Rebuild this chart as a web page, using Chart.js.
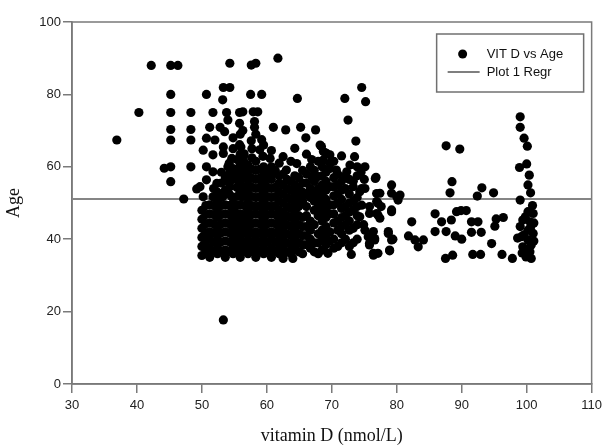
<!DOCTYPE html>
<html>
<head>
<meta charset="utf-8">
<script src="https://cdn.jsdelivr.net/npm/chart.js@4.4.0/dist/chart.umd.min.js"></script>
<style>
html,body{margin:0;padding:0;background:#fff;}
#wrap{width:607px;height:447px;position:relative;}
</style>
</head>
<body>
<div id="wrap"><canvas id="c" width="607" height="447"></canvas></div>
<script>
// ---- axis ticks ----
const xTicks = [30, 40, 50, 60, 70, 80, 90, 100, 110];
const yTicks = [0, 20, 40, 60, 80, 100];
// ---- regression (flat) line value ----
const regrAge = 51.1;
const regrRange = [30, 110];
// ---- series labels ----
const seriesLabels = ['VIT D vs Age', 'Plot 1 Regr'];

// ---- observations [vitamin D, age], grouped by vitamin D range ----
const ptsBelow50 = [
[36.9,67.4],[40.3,75.0],[42.2,88.0],[45.2,88.0],[46.3,88.0],[45.2,80.0],[45.2,75.0],[45.2,70.3],[45.2,67.4],[44.2,59.6],[45.2,60.0],[45.2,55.9],[48.3,75.0],[48.3,70.3],[48.3,67.4],[48.3,60.0],[47.2,51.1],[49.2,53.9],[49.7,54.5]
];
const pts50to56 = [
[54.3,88.6],[50.7,80.0],[53.3,81.9],[54.3,81.9],[53.2,78.5],[51.7,75.0],[53.8,75.0],[55.8,75.0],[54.0,72.9],[51.2,70.9],[52.8,70.9],[53.5,69.7],[55.8,72.0],[50.7,67.9],[52.0,67.4],[53.3,65.5],[55.8,66.1],[50.2,64.6],[51.7,63.3],[53.3,63.7],[54.6,62.3],[50.7,60.0],[51.7,58.6],[54.0,60.0],[55.3,58.2],[50.7,56.4],[52.3,55.4],[54.3,54.5],[55.8,55.4],[50.2,51.7],[51.7,51.7],[53.2,51.7],[54.6,51.7],[53.3,17.7],
[50.0,35.5],[50.0,38.0],[50.0,40.5],[50.0,43.0],[50.0,45.5],[50.0,48.0],
[51.2,35.0],[51.2,37.5],[51.2,40.0],[51.2,42.0],[51.2,44.5],[51.2,47.0],[51.2,49.5],
[52.4,36.0],[52.4,38.5],[52.4,41.0],[52.4,43.5],[52.4,46.0],[52.4,48.5],[52.4,50.5],[52.4,53.0],
[53.6,35.0],[53.6,37.0],[53.6,39.5],[53.6,42.0],[53.6,44.5],[53.6,47.0],[53.6,49.5],[53.6,53.5],[53.6,57.0],
[54.8,36.0],[54.8,38.5],[54.8,41.0],[54.8,43.0],[54.8,45.5],[54.8,48.0],[54.8,50.0],[54.8,56.5],[54.8,59.5],[54.8,65.0],[54.8,68.0],
[55.9,35.0],[55.9,37.5],[55.9,40.0],[55.9,42.5],[55.9,45.0],[55.9,47.0],[55.9,49.5],[55.9,53.0],[55.9,57.5],[55.9,60.5],[55.9,63.5],[55.9,69.0]
];
const pts56to62 = [
[57.6,88.1],[58.3,88.6],[61.7,90.0],[57.5,80.0],[59.2,80.0],[56.3,75.2],[57.9,75.2],[58.6,75.2],[58.1,72.5],[58.1,70.9],[56.3,70.0],[57.6,67.2],[59.2,67.5],[56.0,65.5],[56.5,63.6],[58.9,64.7],[59.4,62.9],[56.4,62.8],[56.9,58.6],[56.9,53.1],[56.1,51.7],[61.0,70.9],[60.5,62.3],[61.0,58.2],
[57.1,36.0],[57.1,38.5],[57.1,41.0],[57.1,43.0],[57.1,45.5],[57.1,48.0],[57.1,50.0],[57.1,52.5],[57.1,55.0],[57.1,57.5],[57.1,60.5],
[58.3,35.0],[58.3,37.5],[58.3,40.0],[58.3,42.0],[58.3,44.5],[58.3,47.0],[58.3,49.0],[58.3,51.5],[58.3,54.0],[58.3,56.5],[58.3,59.0],[58.3,61.5],[58.3,69.0],
[59.5,36.0],[59.5,38.5],[59.5,41.0],[59.5,43.5],[59.5,45.5],[59.5,48.0],[59.5,50.5],[59.5,53.0],[59.5,55.5],[59.5,57.5],[59.5,60.0],[59.5,66.0],
[60.7,35.0],[60.7,37.5],[60.7,40.0],[60.7,42.0],[60.7,44.5],[60.7,47.0],[60.7,49.0],[60.7,51.5],[60.7,54.0],[60.7,56.5],[60.7,60.0],[60.7,64.5],
[61.9,36.0],[61.9,38.5],[61.9,41.0],[61.9,43.5],[61.9,46.0],[61.9,48.0],[61.9,50.5],[61.9,53.0],[61.9,55.5],[61.9,57.5],[61.9,61.0]
];
const ptsCore50to62 = [
[50.6,36.8],[50.6,39.3],[50.6,41.8],[50.6,44.3],[50.6,46.8],[50.6,49.3],
[51.8,36.8],[51.8,39.3],[51.8,41.8],[51.8,44.3],[51.8,46.8],[51.8,49.3],[51.8,54.0],
[53.0,36.8],[53.0,39.3],[53.0,41.8],[53.0,44.3],[53.0,46.8],[53.0,49.3],[53.0,51.8],[53.0,55.5],[53.0,58.5],
[54.2,36.8],[54.2,39.3],[54.2,41.8],[54.2,44.3],[54.2,46.8],[54.2,49.3],[54.2,52.5],[54.2,55.5],[54.2,58.0],[54.2,61.0],
[55.4,36.8],[55.4,39.3],[55.4,41.8],[55.4,44.3],[55.4,46.8],[55.4,49.3],[55.4,51.8],[55.4,54.3],[55.4,56.8],[55.4,59.3],[55.4,62.0],
[56.5,36.8],[56.5,39.3],[56.5,41.8],[56.5,44.3],[56.5,46.8],[56.5,49.3],[56.5,51.8],[56.5,54.3],[56.5,56.8],[56.5,59.3],[56.5,61.3],
[57.7,36.8],[57.7,39.3],[57.7,41.8],[57.7,44.3],[57.7,46.8],[57.7,49.3],[57.7,51.8],[57.7,54.3],[57.7,56.8],[57.7,59.3],[57.7,62.5],[57.7,65.0],
[58.9,36.8],[58.9,39.3],[58.9,41.8],[58.9,44.3],[58.9,46.8],[58.9,49.3],[58.9,51.8],[58.9,54.3],[58.9,56.8],[58.9,59.3],
[60.1,36.8],[60.1,39.3],[60.1,41.8],[60.1,44.3],[60.1,46.8],[60.1,49.3],[60.1,51.8],[60.1,54.3],[60.1,56.8],[60.1,58.5],
[61.3,36.8],[61.3,39.3],[61.3,41.8],[61.3,44.3],[61.3,46.8],[61.3,49.3],[61.3,51.8],[61.3,54.3],[61.3,59.0]
];
const pts62to68 = [
[62.9,70.2],[65.2,70.9],[67.5,70.2],[66.0,68.0],[64.3,65.1],[62.5,62.8],[64.7,78.9],[64.6,60.9],[63.0,59.1],[66.9,57.3],[67.9,57.3],[68.2,66.0],[68.7,64.2],[66.9,62.0],[62.5,34.7],[64.0,34.7],
[63.1,36.5],[63.1,39.0],[63.1,41.5],[63.1,44.0],[63.1,46.5],[63.1,49.0],[63.1,51.5],[63.1,54.0],[63.1,56.5],
[64.3,37.5],[64.3,40.0],[64.3,42.5],[64.3,45.0],[64.3,47.5],[64.3,50.0],[64.3,52.5],[64.3,55.0],[64.3,57.5],
[65.5,36.0],[65.5,38.5],[65.5,41.0],[65.5,43.5],[65.5,46.0],[65.5,50.5],[65.5,53.0],[65.5,55.5],[65.5,59.0],
[66.7,37.5],[66.7,40.0],[66.7,42.5],[66.7,45.0],[66.7,51.5],[66.7,54.0],[66.7,60.0],
[67.9,36.0],[67.9,39.0],[67.9,41.5],[67.9,46.5],[67.9,49.0],[67.9,51.5],[67.9,54.0],[67.9,61.5]
];
const ptsCore62to74 = [
[62.5,37.5],[62.5,40.0],[62.5,42.5],[62.5,45.0],[62.5,47.5],[62.5,50.0],[62.5,52.5],[62.5,55.0],[62.5,58.0],
[63.7,36.0],[63.7,38.5],[63.7,41.0],[63.7,43.5],[63.7,46.0],[63.7,48.5],[63.7,51.0],[63.7,53.5],[63.7,56.0],[63.7,61.5],
[64.9,36.5],[64.9,39.0],[64.9,41.5],[64.9,44.0],[64.9,46.5],[64.9,49.0],[64.9,51.5],[64.9,54.0],[64.9,57.0],
[66.1,38.5],[66.1,41.0],[66.1,43.5],[66.1,46.5],[66.1,49.0],[66.1,52.5],[66.1,55.5],[66.1,58.0],[66.1,63.5],
[67.3,36.5],[67.3,39.0],[67.3,44.0],[67.3,48.0],[67.3,50.5],[67.3,53.0],[67.3,56.0],[67.3,59.0],
[68.5,37.0],[68.5,40.0],[68.5,42.5],[68.5,45.0],[68.5,47.5],[68.5,50.0],[68.5,52.5],[68.5,55.0],[68.5,57.5],[68.5,60.0],
[69.7,39.5],[69.7,42.0],[69.7,47.0],[69.7,49.5],[69.7,54.5],[69.7,59.5],[69.7,61.0],
[70.9,38.0],[70.9,42.5],[70.9,45.0],[70.9,50.0],[70.9,52.5],[70.9,55.0],[70.9,58.0],
[72.1,40.0],[72.1,44.0],[72.1,46.5],[72.1,49.0],[72.1,54.0],[72.1,57.5],
[73.3,39.0],[73.3,43.0],[73.3,48.0],[73.3,50.5],[73.3,56.0]
];
const pts68to74 = [
[69.7,63.3],[68.7,61.9],[73.5,62.8],[72.8,60.5],[70.7,59.1],[72.3,58.6],[73.7,67.1],[72.5,72.9],[72.0,78.9],[74.6,81.9],[75.2,78.0],[73.3,54.5],[74.3,53.1],[69.4,36.1],[73.0,35.8],[68.4,65.6],[69.2,63.7],
[69.1,38.5],[69.1,41.0],[69.1,43.5],[69.1,46.0],[69.1,48.5],[69.1,51.0],[69.1,53.5],[69.1,56.0],[69.1,58.5],
[70.3,37.5],[70.3,40.0],[70.3,44.5],[70.3,47.0],[70.3,49.5],[70.3,52.0],[70.3,54.5],[70.3,57.0],[70.3,61.5],
[71.5,39.0],[71.5,41.5],[71.5,43.5],[71.5,46.0],[71.5,48.5],[71.5,51.0],[71.5,53.5],[71.5,56.0],[71.5,63.0],
[72.7,38.0],[72.7,42.5],[72.7,45.0],[72.7,47.5],[72.7,50.0],[72.7,52.5],[72.7,56.5],
[73.9,40.0],[73.9,44.0],[73.9,46.5],[73.9,49.0],[73.9,51.5],[73.9,57.5],[73.9,60.0]
];
const pts74to81 = [
[74.6,54.0],[75.1,54.0],[76.9,52.6],[77.1,49.9],[75.8,49.0],[74.6,49.4],[74.3,46.2],[75.8,47.1],[77.1,46.7],[75.1,42.5],[75.6,40.7],[76.6,39.8],[75.8,38.9],[76.4,36.1],[77.1,36.1],[78.7,41.6],[79.2,39.8],[78.9,37.0],[79.2,55.0],[80.5,52.2],[80.2,50.8],[79.2,47.6],[77.6,49.0],[76.8,57.1],[75.1,60.0],[76.7,56.8],[77.4,52.7],[76.9,50.4],[79.2,52.7],[80.0,51.7],[79.2,48.1],[76.9,47.1],[77.4,45.8],[76.4,42.1],[78.7,42.1],[76.6,40.2],[79.4,40.0],[75.8,38.4],[76.4,35.6],[78.9,36.8],[74.9,44.0],[75.0,56.5],[74.5,58.5]
];
const pts81to97 = [
[82.3,44.8],[81.8,40.9],[82.8,39.8],[83.3,37.9],[84.1,39.8],[85.9,47.0],[86.9,44.8],[88.4,45.3],[89.2,47.6],[89.9,47.9],[90.7,47.9],[87.6,65.8],[89.7,64.9],[88.5,55.9],[88.2,52.8],[85.9,42.1],[87.6,42.1],[89.0,40.9],[90.0,40.0],[87.5,34.7],[88.6,35.6],[91.5,44.8],[92.5,44.8],[91.5,41.9],[93.0,41.9],[91.7,35.8],[92.9,35.8],[94.6,38.8],[95.3,45.6],[96.4,46.0],[95.1,43.6],[93.1,54.2],[92.4,51.9],[94.9,52.8],[96.2,35.8],[97.8,34.7]
];
const pts97to101 = [
[99.0,73.8],[99.0,70.9],[99.6,67.9],[100.1,65.7],[98.9,59.8],[100.0,60.8],[100.4,57.7],[100.2,55.0],[100.6,52.8],[99.0,50.8],
[100.2,47.6],[101.0,47.1],[99.4,45.3],[100.5,44.8],[99.0,43.5],[100.2,42.5],[101.0,41.6],[99.2,40.7],[100.2,39.8],[100.7,38.4],[99.4,37.9],[100.5,36.5],[99.9,35.1],[100.7,34.7],
[99.8,46.2],[100.6,43.3],[99.6,41.2],[100.0,37.2],[98.6,40.3],[101.1,44.5],[100.9,49.3],[101.1,39.5],[99.3,36.2]
];

const allPts = [].concat(ptsBelow50, pts50to56, pts56to62, ptsCore50to62, pts62to68, ptsCore62to74, pts68to74, pts74to81, pts81to97, pts97to101);
const scatterData = allPts.map(p => ({x: p[0], y: p[1]}));
const regrData = regrRange.map(v => ({x: v, y: regrAge}));

const AXIS_COLOR = '#7a7a7a';
const SANS = '"Liberation Sans", Arial, sans-serif';
const SERIF = '"Liberation Serif", "Times New Roman", serif';

// full frame around plot area
const framePlugin = {
  id: 'frame',
  beforeDatasetsDraw(chart) {
    const {ctx, chartArea: a} = chart;
    ctx.save();
    ctx.strokeStyle = AXIS_COLOR;
    ctx.lineWidth = 1.5;
    ctx.strokeRect(a.left, a.top, a.right - a.left, a.bottom - a.top);
    ctx.restore();
  }
};

// boxed legend inside the plot area (top right)
const boxLegend = {
  id: 'boxLegend',
  afterDraw(chart) {
    const {ctx, chartArea: a} = chart;
    const ds = chart.data.datasets;
    const w = 147, h = 58;
    const x0 = a.right - 8 - w, y0 = a.top + 12;
    ctx.save();
    ctx.fillStyle = '#fff';
    ctx.fillRect(x0, y0, w, h);
    ctx.strokeStyle = '#707070';
    ctx.lineWidth = 1.5;
    ctx.strokeRect(x0, y0, w, h);
    const row1 = y0 + 20, row2 = y0 + 38;
    ctx.fillStyle = '#000';
    ctx.beginPath();
    ctx.arc(x0 + 26, row1, 4.5, 0, Math.PI * 2);
    ctx.fill();
    ctx.strokeStyle = '#555';
    ctx.lineWidth = 1.3;
    ctx.beginPath();
    ctx.moveTo(x0 + 11, row2);
    ctx.lineTo(x0 + 43, row2);
    ctx.stroke();
    ctx.fillStyle = '#111';
    ctx.font = '13px ' + SANS;
    ctx.textBaseline = 'middle';
    ctx.textAlign = 'left';
    ctx.fillText(ds[0].label, x0 + 50, row1);
    ctx.fillText(ds[1].label, x0 + 50, row2);
    ctx.restore();
  }
};

new Chart(document.getElementById('c'), {
  data: {
    datasets: [
      {
        type: 'scatter',
        label: seriesLabels[0],
        data: scatterData,
        pointRadius: 4.6,
        pointHoverRadius: 4.6,
        pointBackgroundColor: '#000',
        pointBorderWidth: 0,
        borderWidth: 0,
        order: 0
      },
      {
        type: 'line',
        label: seriesLabels[1],
        data: regrData,
        borderColor: '#858585',
        borderWidth: 2,
        pointRadius: 0,
        fill: false,
        order: 1
      }
    ]
  },
  options: {
    responsive: false,
    devicePixelRatio: 1,
    animation: false,
    events: [],
    layout: {padding: {left: 0, right: 15, top: 22, bottom: 0}},
    plugins: {legend: {display: false}, tooltip: {enabled: false}},
    scales: {
      x: {
        type: 'linear',
        min: xTicks[0],
        max: xTicks[xTicks.length - 1],
        afterBuildTicks(s) { s.ticks = xTicks.map(v => ({value: v})); },
        afterFit(s) { s.height = 63; },
        grid: {drawOnChartArea: false, drawTicks: true, tickLength: 9, color: AXIS_COLOR, lineWidth: 1.5},
        border: {display: true, color: AXIS_COLOR, width: 1.5},
        ticks: {color: '#222', font: {family: SANS, size: 13}, padding: 5, maxRotation: 0, autoSkip: false},
        title: {display: true, text: 'vitamin D (nmol/L)', color: '#111', font: {family: SERIF, size: 18}, padding: {top: 0, bottom: 0}}
      },
      y: {
        type: 'linear',
        min: yTicks[0],
        max: yTicks[yTicks.length - 1],
        afterBuildTicks(s) { s.ticks = yTicks.map(v => ({value: v})); },
        afterFit(s) { s.width = 72; },
        grid: {drawOnChartArea: false, drawTicks: true, tickLength: 9, color: AXIS_COLOR, lineWidth: 1.5},
        border: {display: true, color: AXIS_COLOR, width: 1.5},
        ticks: {color: '#222', font: {family: SANS, size: 13}, padding: 2, autoSkip: false},
        title: {display: true, text: 'Age', color: '#111', font: {family: SERIF, size: 18}, padding: {top: 3, bottom: 0}}
      }
    }
  },
  plugins: [framePlugin, boxLegend]
});
</script>
</body>
</html>
